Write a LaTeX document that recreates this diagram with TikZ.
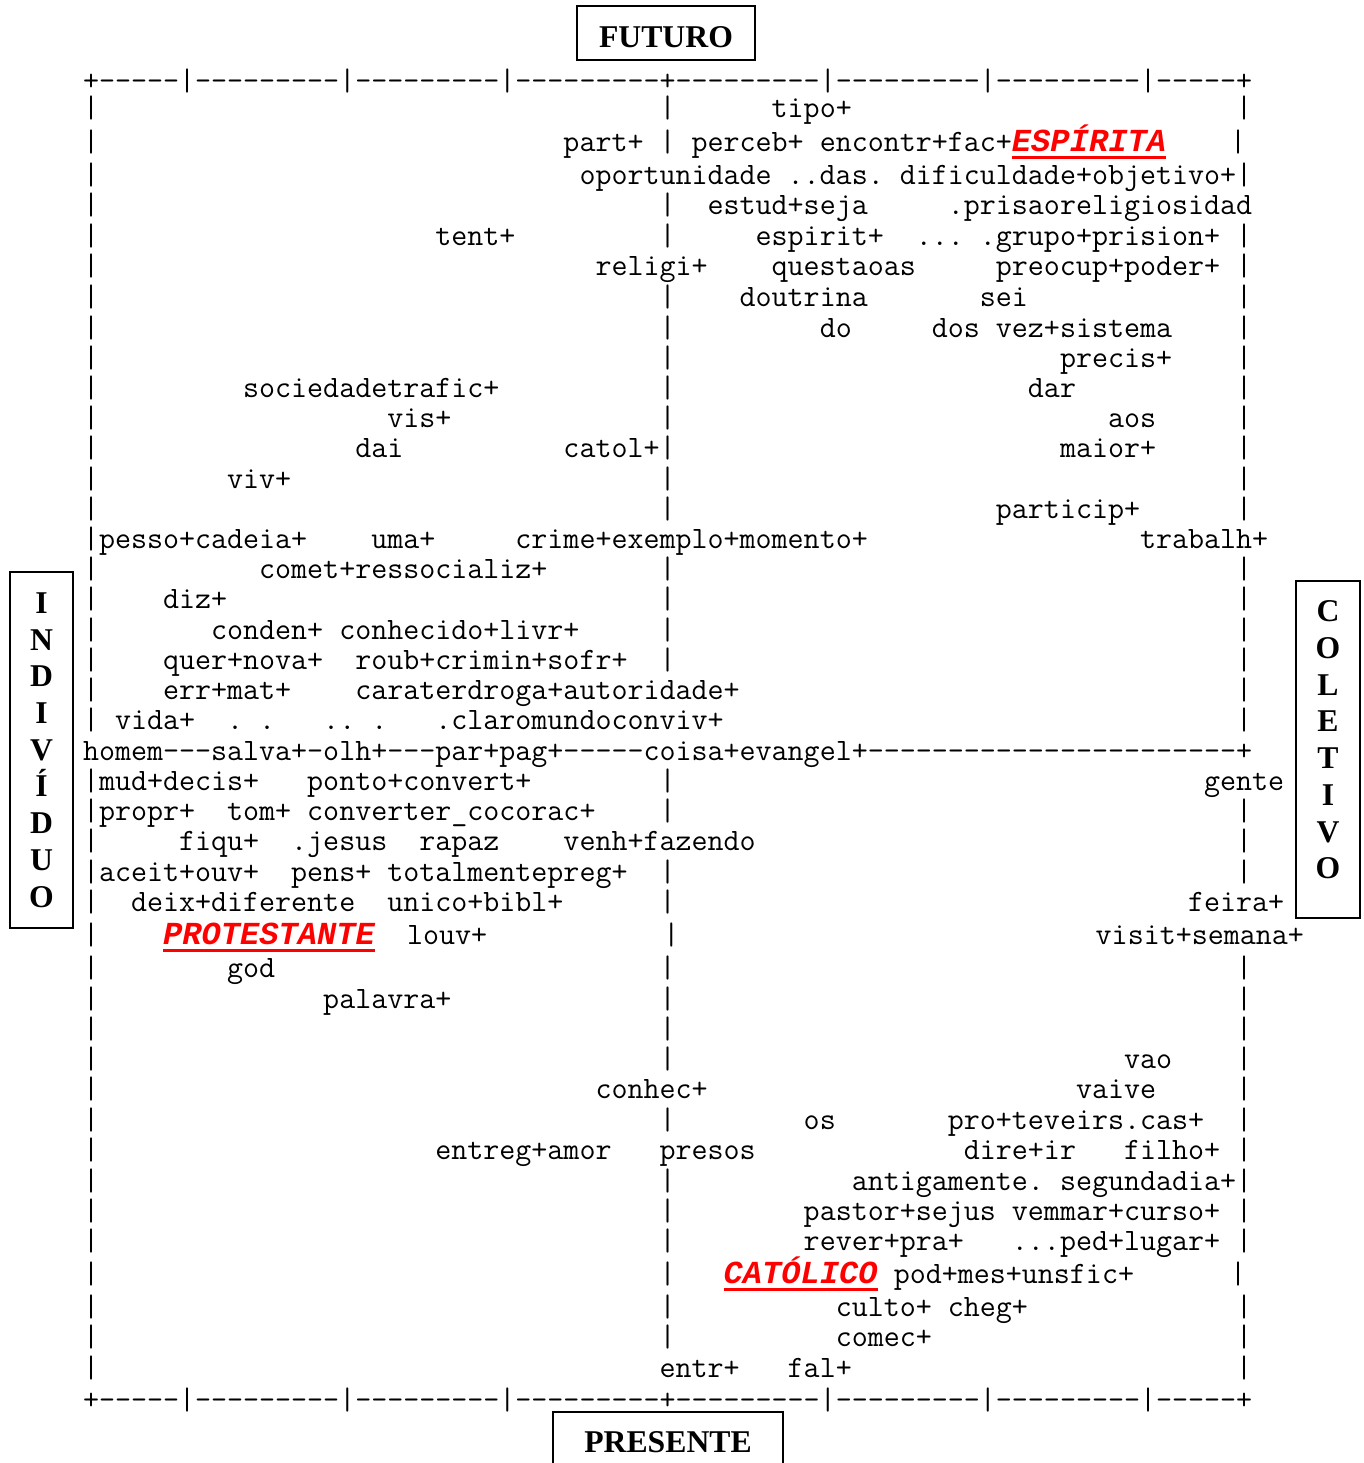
\documentclass[tikz,border=0pt]{standalone}
\usepackage{fontspec}
\setmainfont{Liberation Serif}
\setmonofont{Latin Modern Mono}[Ligatures=TeXOff]
\newfontfamily\redfont{Liberation Mono}
\newcommand\gp[1]{\hspace*{#1\fontcharwd\font`M}}
\newsavebox\wbox
\newcommand\redw[1]{\sbox\wbox{\color{red}\redfont\fontsize{32.1pt}{34pt}\selectfont\bfseries\itshape #1}%
  \rlap{\color{red}\rule[-7.5pt]{\wd\wbox}{3pt}}\usebox\wbox}
\begin{document}
\begin{tikzpicture}[x=1pt,y=-1pt,
  row/.style={anchor=base west,inner sep=0pt,outer sep=0pt,
    font=\ttfamily\frenchspacing\fontsize{31.1pt}{32pt}\selectfont},
  axis/.style={draw,line width=2pt,inner sep=0pt,
    font=\bfseries\fontsize{31.7pt}{36.7pt}\selectfont},
  vaxis/.style={axis,align=center}]
\useasboundingbox (0,0) rectangle (1364,1463);
% axis labels
\node[axis,minimum width=178,minimum height=54,text height=29pt,text depth=0pt] (futuro) at (666,33) {FUTURO};
\node[axis,minimum width=230,minimum height=54,text height=27pt,text depth=0pt] (presente) at (668,1439) {PRESENTE};
\node[vaxis,minimum width=63,minimum height=356] (indiv) at (41.5,750) {I\\N\\D\\I\\V\\Í\\D\\U\\O};
\node[axis,minimum width=64,minimum height=337] (colet) at (1328,749.5) {};
\node[vaxis,draw=none] (colettxt) at (1328,740) {C\\O\\L\\E\\T\\I\\V\\O};
% the plot, one line of text per row
\node[row] (l00) at (83,91) {+-----|---------|---------|---------+---------|---------|---------|-----+};
\node[row] (l01) at (83,118) {|\gp{35}|\gp{6}tipo+\gp{24}|};
\node[row] (l02) at (83,152) {|\gp{29}part+ | perceb+ encontr+fac+\redw{ESPÍRITA}\gp{4}|};
\node[row] (l03) at (83,185) {|\gp{30}oportunidade ..das. dificuldade+objetivo+|};
\node[row] (l04) at (83,215) {|\gp{35}|\gp{2}estud+seja\gp{5}.prisaoreligiosidad};
\node[row] (l05) at (83,246) {|\gp{21}tent+\gp{9}|\gp{5}espirit+\gp{2}... .grupo+prision+ |};
\node[row] (l06) at (83,276) {|\gp{31}religi+\gp{4}questaoas\gp{5}preocup+poder+ |};
\node[row] (l07) at (83,306) {|\gp{35}|\gp{4}doutrina\gp{7}sei\gp{13}|};
\node[row] (l08) at (83,337) {|\gp{35}|\gp{9}do\gp{5}dos vez+sistema\gp{4}|};
\node[row] (l09) at (83,367) {|\gp{35}|\gp{24}precis+\gp{4}|};
\node[row] (l10) at (83,397) {|\gp{9}sociedadetrafic+\gp{10}|\gp{22}dar\gp{10}|};
\node[row] (l11) at (83,427) {|\gp{18}vis+\gp{13}|\gp{27}aos\gp{5}|};
\node[row] (l12) at (83,457) {|\gp{16}dai\gp{10}catol+|\gp{24}maior+\gp{5}|};
\node[row] (l13) at (83,488) {|\gp{8}viv+\gp{23}|\gp{35}|};
\node[row] (l14) at (83,518) {|\gp{35}|\gp{20}particip+\gp{6}|};
\node[row] (l15) at (83,548) {|pesso+cadeia+\gp{4}uma+\gp{5}crime+exemplo+momento+\gp{17}trabalh+};
\node[row] (l16) at (83,578) {|\gp{10}comet+ressocializ+\gp{7}|\gp{35}|};
\node[row] (l17) at (83,608) {|\gp{4}diz+\gp{27}|\gp{35}|};
\node[row] (l18) at (83,639) {|\gp{7}conden+ conhecido+livr+\gp{5}|\gp{35}|};
\node[row] (l19) at (83,669) {|\gp{4}quer+nova+\gp{2}roub+crimin+sofr+\gp{2}|\gp{35}|};
\node[row] (l20) at (83,699) {|\gp{4}err+mat+\gp{4}caraterdroga+autoridade+\gp{31}|};
\node[row] (l21) at (83,729) {| vida+\gp{2}.\gp{1}.\gp{3}..\gp{1}.\gp{3}.claromundoconviv+\gp{32}|};
\node[row] (l22) at (83,760) {homem---salva+-olh+---par+pag+-----coisa+evangel+-----------------------+};
\node[row] (l23) at (83,790) {|mud+decis+\gp{3}ponto+convert+\gp{8}|\gp{33}gente};
\node[row] (l24) at (83,820) {|propr+\gp{2}tom+ converter\_cocorac+\gp{4}|\gp{35}|};
\node[row] (l25) at (83,850) {|\gp{5}fiqu+\gp{2}.jesus\gp{2}rapaz\gp{4}venh+fazendo\gp{30}|};
\node[row] (l26) at (83,881) {|aceit+ouv+\gp{2}pens+ totalmentepreg+\gp{2}|\gp{35}|};
\node[row] (l27) at (83,911) {|\gp{2}deix+diferente\gp{2}unico+bibl+\gp{6}|\gp{32}feira+};
\node[row] (l28) at (83,944) {|\gp{4}\redw{PROTESTANTE}\gp{2}louv+\gp{11}|\gp{26}visit+semana+};
\node[row] (l29) at (83,977) {|\gp{8}god\gp{24}|\gp{35}|};
\node[row] (l30) at (83,1008) {|\gp{14}palavra+\gp{13}|\gp{35}|};
\node[row] (l31) at (83,1038) {|\gp{35}|\gp{35}|};
\node[row] (l32) at (83,1068) {|\gp{35}|\gp{28}vao\gp{4}|};
\node[row] (l33) at (83,1098) {|\gp{31}conhec+\gp{23}vaive\gp{5}|};
\node[row] (l34) at (83,1129) {|\gp{35}|\gp{8}os\gp{7}pro+teveirs.cas+\gp{2}|};
\node[row] (l35) at (83,1159) {|\gp{21}entreg+amor\gp{3}presos\gp{13}dire+ir\gp{3}filho+ |};
\node[row] (l36) at (83,1190) {|\gp{35}|\gp{11}antigamente. segundadia+|};
\node[row] (l37) at (83,1220) {|\gp{35}|\gp{8}pastor+sejus vemmar+curso+ |};
\node[row] (l38) at (83,1250) {|\gp{35}|\gp{8}rever+pra+\gp{3}...ped+lugar+ |};
\node[row] (l39) at (83,1283) {|\gp{35}|\gp{3}\redw{CATÓLICO} pod+mes+unsfic+\gp{6}|};
\node[row] (l40) at (83,1316) {|\gp{35}|\gp{10}culto+ cheg+\gp{13}|};
\node[row] (l41) at (83,1346) {|\gp{35}|\gp{10}comec+\gp{19}|};
\node[row] (l42) at (83,1377) {|\gp{35}entr+\gp{3}fal+\gp{24}|};
\node[row] (l43) at (83,1409) {+-----|---------|---------|---------+---------|---------|---------|-----+};
\end{tikzpicture}
\end{document}
